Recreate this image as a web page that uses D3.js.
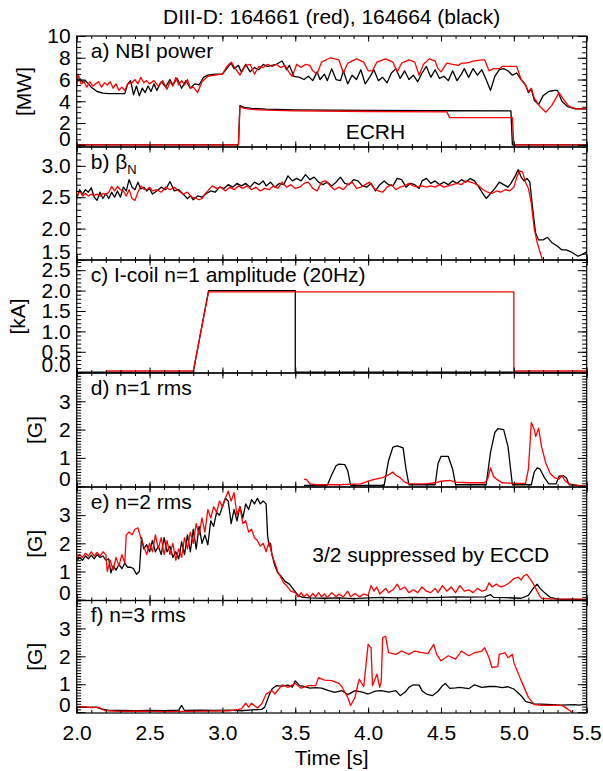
<!DOCTYPE html>
<html>
<head>
<meta charset="utf-8">
<script src="https://cdn.jsdelivr.net/npm/d3@7"></script>
<style>
  body { margin: 0; background: #fff; }
  svg text { font-family: "Liberation Sans", Arial, sans-serif; fill: #000; }
  .trace { fill: none; stroke-width: 1.3; stroke-linejoin: round; }
</style>
</head>
<body>
<svg id="chart"></svg>
<script>
// ---- data: [time (s), value] ----
const timeTicks = [2.0, 2.5, 3.0, 3.5, 4.0, 4.5, 5.0, 5.5];
const nbiTicks = [0, 2, 4, 6, 8, 10];
const betaTicks = [1.5, 2.0, 2.5, 3.0];
const coilTicks = [0, 0.5, 1.0, 1.5, 2.0, 2.5];
const rmsTicks = [0, 1, 2, 3];

const nbiBlack = [[2.00,5.7],[2.02,6.1],[2.04,5.8],[2.06,5.9],[2.08,5.6],[2.10,5.3],[2.14,4.9],[2.18,4.75],[2.22,4.7],[2.33,4.7],[2.35,5.6],[2.37,5.9],[2.39,4.6],[2.41,5.4],[2.43,4.5],[2.45,5.2],[2.47,4.8],[2.49,5.4],[2.51,4.9],[2.53,5.6],[2.55,5.0],[2.58,5.8],[2.61,5.3],[2.64,6.0],[2.66,5.5],[2.69,6.1],[2.72,5.2],[2.75,5.9],[2.78,5.2],[2.81,5.6],[2.84,5.5],[2.87,6.2],[2.90,6.4],[2.95,6.5],[3.00,6.5],[3.03,7.0],[3.06,7.5],[3.08,7.0],[3.11,7.3],[3.13,6.7],[3.16,7.4],[3.19,6.7],[3.22,7.1],[3.25,6.9],[3.28,7.4],[3.31,7.2],[3.34,7.3],[3.37,7.4],[3.41,7.7],[3.44,6.9],[3.46,7.3],[3.49,6.3],[3.53,6.2],[3.56,6.0],[3.59,6.3],[3.62,5.9],[3.65,6.7],[3.67,6.0],[3.70,6.5],[3.72,5.9],[3.75,7.0],[3.78,6.0],[3.81,5.9],[3.83,6.8],[3.86,5.6],[3.89,6.4],[3.92,6.0],[3.95,6.9],[3.98,5.6],[4.01,6.2],[4.04,6.9],[4.07,5.9],[4.10,6.2],[4.13,5.7],[4.16,6.6],[4.19,7.0],[4.22,6.1],[4.25,6.8],[4.28,6.0],[4.31,6.4],[4.34,5.8],[4.37,6.6],[4.40,7.2],[4.43,6.2],[4.46,6.9],[4.49,6.1],[4.52,6.3],[4.55,5.9],[4.58,6.8],[4.61,5.9],[4.64,6.5],[4.66,7.0],[4.69,6.2],[4.72,7.0],[4.75,6.4],[4.78,6.9],[4.81,6.0],[4.84,5.0],[4.87,6.3],[4.90,6.9],[4.93,7.0],[4.96,6.8],[4.99,6.4],[5.02,6.6],[5.05,6.0],[5.08,5.5],[5.10,4.8],[5.12,5.1],[5.14,4.1],[5.17,3.7],[5.20,4.5],[5.24,4.9],[5.28,5.0],[5.30,5.0],[5.33,4.0],[5.37,3.5],[5.42,3.3],[5.50,3.3]];
const nbiRed = [[2.00,5.3],[2.01,6.5],[2.03,5.6],[2.05,5.8],[2.07,5.3],[2.09,5.8],[2.11,5.4],[2.13,5.6],[2.15,5.8],[2.17,5.3],[2.19,5.7],[2.21,5.5],[2.23,5.8],[2.25,5.2],[2.27,5.6],[2.29,5.0],[2.31,5.3],[2.33,5.0],[2.35,5.6],[2.38,5.7],[2.40,6.0],[2.42,5.6],[2.44,6.2],[2.46,5.7],[2.48,5.9],[2.50,5.6],[2.53,5.9],[2.56,5.4],[2.59,5.9],[2.62,5.1],[2.64,5.8],[2.66,5.4],[2.68,6.2],[2.70,5.5],[2.72,5.9],[2.74,5.5],[2.76,6.0],[2.78,5.2],[2.80,5.3],[2.83,4.8],[2.86,5.8],[2.90,6.3],[2.95,6.4],[3.00,6.5],[3.03,7.2],[3.06,7.6],[3.09,7.0],[3.12,6.4],[3.16,7.3],[3.19,7.4],[3.22,6.5],[3.25,7.2],[3.28,7.1],[3.31,7.4],[3.34,7.2],[3.37,7.4],[3.40,7.1],[3.43,7.3],[3.46,6.6],[3.48,6.3],[3.51,7.4],[3.54,7.1],[3.57,7.4],[3.60,7.3],[3.62,6.8],[3.65,6.5],[3.68,7.6],[3.74,8.0],[3.80,7.8],[3.83,6.6],[3.86,7.5],[3.92,7.9],[3.97,7.6],[4.00,6.8],[4.03,6.8],[4.06,7.6],[4.12,7.9],[4.17,7.6],[4.20,6.7],[4.23,7.5],[4.28,7.8],[4.32,7.6],[4.35,6.4],[4.38,7.4],[4.42,7.9],[4.46,7.7],[4.48,7.0],[4.50,6.7],[4.54,7.5],[4.58,7.4],[4.62,7.3],[4.64,7.5],[4.67,7.5],[4.70,7.6],[4.72,7.7],[4.78,7.8],[4.80,7.8],[4.83,6.8],[4.86,7.0],[4.90,7.0],[4.92,7.2],[5.02,7.2],[5.05,6.0],[5.08,5.5],[5.10,4.9],[5.12,5.2],[5.14,4.3],[5.18,3.5],[5.22,3.0],[5.26,3.6],[5.31,4.8],[5.34,4.2],[5.38,3.5],[5.43,3.3],[5.50,3.3]];
const ecrhBlack = [[2.00,0],[3.11,0],[3.12,3.6],[3.15,3.45],[3.20,3.35],[3.30,3.28],[3.50,3.22],[4.00,3.17],[4.50,3.13],[4.98,3.12],[4.99,0],[5.50,0]];
const ecrhRed = [[2.00,0],[3.11,0],[3.12,3.5],[3.15,3.35],[3.20,3.25],[3.30,3.18],[3.50,3.12],[4.00,3.06],[4.54,3.02],[4.56,2.5],[4.99,2.5],[5.00,0],[5.50,0]];

const betaBlack = [[2.00,2.48],[2.02,2.62],[2.04,2.55],[2.06,2.62],[2.08,2.58],[2.10,2.65],[2.12,2.50],[2.14,2.45],[2.16,2.58],[2.18,2.48],[2.20,2.56],[2.22,2.48],[2.24,2.58],[2.26,2.50],[2.28,2.60],[2.30,2.50],[2.32,2.66],[2.34,2.60],[2.36,2.78],[2.38,2.66],[2.40,2.62],[2.42,2.74],[2.44,2.63],[2.46,2.66],[2.48,2.60],[2.50,2.64],[2.52,2.55],[2.55,2.60],[2.58,2.66],[2.61,2.62],[2.64,2.75],[2.67,2.60],[2.70,2.62],[2.73,2.55],[2.76,2.48],[2.78,2.52],[2.80,2.46],[2.83,2.52],[2.86,2.50],[2.89,2.56],[2.92,2.60],[2.95,2.58],[2.98,2.66],[3.01,2.64],[3.04,2.70],[3.07,2.66],[3.10,2.72],[3.13,2.68],[3.16,2.72],[3.19,2.66],[3.22,2.74],[3.25,2.70],[3.28,2.76],[3.30,2.68],[3.33,2.74],[3.36,2.66],[3.39,2.72],[3.42,2.70],[3.45,2.84],[3.48,2.76],[3.51,2.80],[3.54,2.76],[3.57,2.86],[3.60,2.78],[3.63,2.82],[3.66,2.74],[3.69,2.70],[3.72,2.74],[3.75,2.68],[3.78,2.74],[3.81,2.82],[3.84,2.72],[3.87,2.70],[3.90,2.78],[3.93,2.76],[3.96,2.68],[3.99,2.66],[4.02,2.72],[4.05,2.60],[4.08,2.70],[4.11,2.76],[4.14,2.70],[4.17,2.68],[4.20,2.80],[4.23,2.78],[4.26,2.66],[4.29,2.72],[4.32,2.70],[4.35,2.64],[4.37,2.76],[4.40,2.80],[4.43,2.72],[4.46,2.76],[4.49,2.70],[4.52,2.74],[4.55,2.70],[4.58,2.76],[4.61,2.72],[4.64,2.78],[4.67,2.74],[4.70,2.80],[4.73,2.76],[4.76,2.66],[4.79,2.55],[4.81,2.48],[4.84,2.56],[4.87,2.64],[4.90,2.74],[4.93,2.70],[4.96,2.66],[4.98,2.72],[5.01,2.84],[5.03,2.94],[5.05,2.82],[5.07,2.76],[5.09,2.80],[5.11,2.74],[5.13,2.30],[5.15,1.92],[5.17,1.82],[5.20,1.82],[5.23,1.86],[5.26,1.78],[5.30,1.72],[5.33,1.66],[5.36,1.66],[5.40,1.62],[5.44,1.56],[5.47,1.59],[5.50,1.63]];
const betaRed = [[2.00,2.50],[2.02,2.60],[2.04,2.52],[2.06,2.56],[2.08,2.52],[2.10,2.55],[2.12,2.53],[2.14,2.55],[2.16,2.52],[2.18,2.56],[2.20,2.54],[2.22,2.58],[2.24,2.67],[2.26,2.60],[2.28,2.67],[2.30,2.62],[2.32,2.60],[2.34,2.52],[2.36,2.62],[2.38,2.48],[2.40,2.45],[2.42,2.58],[2.44,2.68],[2.46,2.63],[2.48,2.62],[2.50,2.66],[2.52,2.60],[2.55,2.62],[2.58,2.58],[2.61,2.66],[2.64,2.62],[2.67,2.66],[2.70,2.60],[2.73,2.55],[2.76,2.58],[2.79,2.50],[2.82,2.48],[2.84,2.46],[2.86,2.48],[2.88,2.55],[2.90,2.60],[2.93,2.68],[2.96,2.64],[2.99,2.66],[3.02,2.60],[3.05,2.66],[3.08,2.62],[3.11,2.68],[3.14,2.64],[3.17,2.68],[3.20,2.62],[3.23,2.66],[3.26,2.60],[3.29,2.64],[3.32,2.62],[3.35,2.68],[3.38,2.64],[3.41,2.74],[3.44,2.66],[3.47,2.70],[3.50,2.64],[3.53,2.66],[3.56,2.72],[3.59,2.74],[3.62,2.64],[3.65,2.60],[3.68,2.74],[3.71,2.76],[3.74,2.68],[3.77,2.62],[3.80,2.66],[3.83,2.62],[3.86,2.70],[3.89,2.74],[3.92,2.64],[3.95,2.66],[3.98,2.70],[4.01,2.74],[4.04,2.64],[4.07,2.60],[4.10,2.58],[4.13,2.66],[4.16,2.70],[4.19,2.62],[4.22,2.66],[4.25,2.68],[4.28,2.72],[4.31,2.68],[4.34,2.66],[4.37,2.68],[4.40,2.66],[4.43,2.68],[4.46,2.66],[4.49,2.70],[4.52,2.66],[4.55,2.68],[4.58,2.70],[4.61,2.72],[4.64,2.70],[4.67,2.76],[4.70,2.74],[4.73,2.72],[4.76,2.68],[4.79,2.62],[4.82,2.58],[4.85,2.56],[4.88,2.60],[4.91,2.58],[4.94,2.62],[4.97,2.60],[5.00,2.66],[5.02,2.82],[5.04,2.92],[5.06,2.90],[5.08,2.74],[5.10,2.64],[5.12,2.40],[5.14,2.00],[5.16,1.78],[5.19,1.55],[5.21,1.40],[5.24,1.25]];

const coilBlack = [[2.00,0],[2.80,0],[2.905,2.0],[3.50,2.0],[3.50,0],[5.50,0]];
const coilRed = [[2.20,0.03],[2.80,0.03],[2.905,1.97],[5.00,1.97],[5.00,0.03],[5.50,0.03]];

const n1Black = [[3.56,0.03],[3.72,0.03],[3.75,0.4],[3.78,0.72],[3.80,0.78],[3.84,0.76],[3.86,0.55],[3.88,0.03],[4.11,0.03],[4.14,0.9],[4.17,1.38],[4.20,1.42],[4.24,1.35],[4.26,0.6],[4.28,0.05],[4.46,0.05],[4.48,0.8],[4.50,1.05],[4.55,1.05],[4.58,0.6],[4.60,0.05],[4.81,0.05],[4.84,1.2],[4.87,1.9],[4.89,2.03],[4.93,2.0],[4.96,1.4],[4.98,0.5],[4.99,0.05],[5.12,0.05],[5.14,0.5],[5.16,0.65],[5.18,0.6],[5.21,0.3],[5.24,0.08],[5.29,0.08],[5.31,0.35],[5.34,0.37],[5.36,0.3],[5.38,0.05],[5.45,0.02],[5.50,0.0]];
const n1Red = [[3.56,0.25],[3.58,0.22],[3.60,0.08],[3.65,0.05],[3.80,0.05],[3.95,0.08],[4.00,0.18],[4.05,0.25],[4.10,0.3],[4.14,0.4],[4.17,0.5],[4.19,0.38],[4.22,0.3],[4.25,0.15],[4.28,0.08],[4.40,0.08],[4.46,0.12],[4.50,0.18],[4.56,0.2],[4.60,0.14],[4.70,0.12],[4.80,0.12],[4.82,0.25],[4.84,0.65],[4.86,0.35],[4.88,0.25],[4.92,0.12],[5.00,0.1],[5.08,0.1],[5.10,0.6],[5.12,2.25],[5.14,2.0],[5.15,1.75],[5.17,2.05],[5.19,1.4],[5.22,0.8],[5.25,0.45],[5.28,0.3],[5.31,0.25],[5.33,0.38],[5.35,0.2],[5.38,0.08],[5.45,0.02],[5.50,0.0]];

const n2Black = [[2.00,1.37],[2.02,1.5],[2.04,1.4],[2.06,1.55],[2.08,1.45],[2.10,1.58],[2.12,1.45],[2.14,1.6],[2.16,1.5],[2.18,1.55],[2.20,1.4],[2.22,1.45],[2.235,0.95],[2.25,1.2],[2.27,1.05],[2.29,1.25],[2.31,1.1],[2.33,1.3],[2.35,1.15],[2.37,1.15],[2.39,1.1],[2.41,0.9],[2.43,1.0],[2.445,2.2],[2.46,1.8],[2.48,1.95],[2.50,1.7],[2.52,2.1],[2.54,1.7],[2.56,1.9],[2.58,1.6],[2.60,2.2],[2.62,1.7],[2.64,1.9],[2.66,1.5],[2.68,1.7],[2.70,1.45],[2.72,2.05],[2.74,1.6],[2.76,2.3],[2.78,1.7],[2.80,2.5],[2.82,1.8],[2.84,2.6],[2.86,2.0],[2.88,2.3],[2.90,1.95],[2.92,2.8],[2.94,2.6],[2.96,3.1],[2.98,3.0],[3.00,3.3],[3.02,3.6],[3.04,3.5],[3.06,2.7],[3.08,3.2],[3.10,2.8],[3.12,3.3],[3.14,2.9],[3.16,3.4],[3.18,3.2],[3.20,3.55],[3.22,3.4],[3.24,3.6],[3.26,3.4],[3.28,3.5],[3.30,3.4],[3.31,2.3],[3.32,1.9],[3.33,2.0],[3.34,1.6],[3.36,1.2],[3.38,0.95],[3.40,0.85],[3.43,0.65],[3.46,0.55],[3.49,0.35],[3.52,0.15],[3.55,0.08],[3.60,0.06],[3.70,0.05],[3.80,0.06],[3.90,0.04],[4.00,0.06],[4.10,0.08],[4.20,0.06],[4.30,0.08],[4.40,0.07],[4.50,0.08],[4.60,0.1],[4.70,0.09],[4.80,0.1],[4.84,0.18],[4.86,0.08],[4.95,0.07],[5.05,0.05],[5.10,0.15],[5.14,0.45],[5.16,0.55],[5.18,0.4],[5.21,0.25],[5.25,0.08],[5.30,0.02],[5.50,0.0]];
const n2Red = [[2.00,1.45],[2.02,1.6],[2.04,1.5],[2.06,1.65],[2.08,1.55],[2.10,1.7],[2.12,1.55],[2.14,1.68],[2.16,1.55],[2.18,1.7],[2.20,1.6],[2.21,1.0],[2.23,1.4],[2.25,1.05],[2.27,1.5],[2.29,1.2],[2.31,1.6],[2.33,1.3],[2.34,2.3],[2.36,2.4],[2.38,2.3],[2.40,2.5],[2.42,2.55],[2.44,2.2],[2.46,1.9],[2.48,1.6],[2.50,2.0],[2.52,1.7],[2.54,2.3],[2.56,1.8],[2.58,2.2],[2.60,1.6],[2.62,2.1],[2.64,1.6],[2.66,2.0],[2.68,1.4],[2.70,1.8],[2.72,1.5],[2.74,2.2],[2.76,1.8],[2.78,2.4],[2.80,2.0],[2.82,2.7],[2.84,2.3],[2.86,2.9],[2.88,2.4],[2.90,3.2],[2.92,2.9],[2.94,3.3],[2.96,3.1],[2.98,3.5],[3.00,3.3],[3.02,3.6],[3.04,3.85],[3.06,3.5],[3.08,3.8],[3.10,3.0],[3.12,3.3],[3.14,2.7],[3.16,2.8],[3.18,2.4],[3.20,2.5],[3.22,2.2],[3.24,2.1],[3.26,1.9],[3.28,2.0],[3.30,1.7],[3.32,2.05],[3.34,1.6],[3.36,1.3],[3.38,1.0],[3.40,0.8],[3.42,0.6],[3.44,0.5],[3.47,0.3],[3.50,0.25],[3.52,0.1],[3.54,0.25],[3.56,0.1],[3.58,0.2],[3.60,0.08],[3.62,0.22],[3.64,0.1],[3.66,0.25],[3.68,0.1],[3.70,0.2],[3.72,0.08],[3.75,0.25],[3.78,0.1],[3.80,0.2],[3.83,0.1],[3.86,0.3],[3.88,0.1],[3.91,0.22],[3.94,0.1],[3.97,0.2],[4.00,0.15],[4.02,0.5],[4.04,0.3],[4.06,0.45],[4.08,0.2],[4.10,0.3],[4.12,0.4],[4.14,0.25],[4.17,0.35],[4.20,0.55],[4.22,0.35],[4.25,0.45],[4.28,0.25],[4.31,0.35],[4.34,0.25],[4.37,0.45],[4.40,0.3],[4.43,0.25],[4.46,0.4],[4.48,0.25],[4.51,0.5],[4.54,0.3],[4.57,0.45],[4.60,0.25],[4.63,0.5],[4.66,0.3],[4.69,0.35],[4.72,0.25],[4.75,0.4],[4.78,0.3],[4.81,0.35],[4.83,0.6],[4.85,0.45],[4.88,0.55],[4.91,0.45],[4.94,0.5],[4.97,0.6],[5.00,0.75],[5.03,0.8],[5.05,0.7],[5.07,0.85],[5.09,0.9],[5.11,0.75],[5.13,0.6],[5.15,0.4],[5.17,0.2],[5.19,0.05],[5.25,0.03],[5.40,0.02],[5.50,0.02]];

const n3Black = [[2.00,0.18],[2.06,0.17],[2.13,0.18],[2.17,0.12],[2.22,0.06],[2.30,0.06],[2.40,0.05],[2.50,0.06],[2.60,0.05],[2.70,0.07],[2.72,0.24],[2.74,0.06],[2.85,0.07],[2.95,0.06],[3.05,0.07],[3.13,0.05],[3.20,0.08],[3.27,0.1],[3.29,0.18],[3.32,0.6],[3.34,0.83],[3.37,0.95],[3.41,0.93],[3.45,0.97],[3.48,0.9],[3.50,1.12],[3.53,0.95],[3.56,0.92],[3.60,0.86],[3.64,0.88],[3.68,0.86],[3.73,0.77],[3.77,0.71],[3.82,0.77],[3.86,0.63],[3.91,0.77],[3.96,0.72],[4.00,0.65],[4.05,0.75],[4.09,0.77],[4.14,0.72],[4.19,0.77],[4.22,0.59],[4.26,0.75],[4.28,0.89],[4.31,0.98],[4.35,0.97],[4.37,0.77],[4.40,0.65],[4.44,0.59],[4.48,0.75],[4.51,0.95],[4.53,1.03],[4.56,0.85],[4.60,0.87],[4.63,0.89],[4.69,0.84],[4.73,0.98],[4.78,0.89],[4.83,0.92],[4.87,0.92],[4.92,0.88],[4.96,0.91],[5.00,0.83],[5.05,0.59],[5.08,0.39],[5.14,0.3],[5.23,0.28],[5.32,0.25],[5.42,0.27],[5.44,0.25],[5.50,0.28]];
const n3Red = [[2.00,0.17],[2.05,0.2],[2.10,0.16],[2.15,0.18],[2.19,0.06],[2.30,0.03],[2.45,0.04],[2.60,0.02],[2.75,0.03],[2.90,0.04],[3.05,0.05],[3.13,0.12],[3.16,0.32],[3.18,0.18],[3.20,0.32],[3.24,0.15],[3.27,0.3],[3.30,0.65],[3.34,0.77],[3.36,0.65],[3.41,0.98],[3.45,0.89],[3.50,1.03],[3.54,0.86],[3.59,0.95],[3.64,0.95],[3.66,1.24],[3.70,1.15],[3.75,1.13],[3.80,1.03],[3.82,0.91],[3.86,0.53],[3.88,0.24],[3.91,0.53],[3.93,1.0],[3.94,1.18],[3.97,0.91],[4.00,2.43],[4.02,2.3],[4.03,0.95],[4.06,1.36],[4.08,0.89],[4.09,1.1],[4.10,2.67],[4.12,2.72],[4.14,2.13],[4.19,2.07],[4.23,2.19],[4.28,2.07],[4.32,2.19],[4.37,2.13],[4.41,2.1],[4.45,2.43],[4.47,2.07],[4.50,1.84],[4.55,2.02],[4.60,1.9],[4.64,2.19],[4.69,2.02],[4.73,2.13],[4.78,2.19],[4.80,2.31],[4.83,1.95],[4.85,1.6],[4.89,1.63],[4.90,2.07],[4.94,2.13],[4.96,1.95],[4.99,2.07],[5.00,1.78],[5.05,1.13],[5.10,0.53],[5.14,0.27],[5.19,0.24],[5.33,0.24],[5.35,0.18],[5.40,0.0],[5.43,-0.18],[5.50,-0.3]];

class ShotTraceChart {

  constructor(_config) {
    this.config = {
      parentElement: _config.parentElement,
      containerWidth: _config.containerWidth || 603,
      containerHeight: _config.containerHeight || 771,
      left: 76.7,
      right: 586.7,
      // panel edges top to bottom (a..f)
      edges: [36, 147, 260, 373, 487, 600.5, 713]
    };
    this.panels = _config.panels;
    this.initVis();
  }

  initVis() {
    let vis = this;

    vis.svg = d3.select(vis.config.parentElement)
        .attr('width', vis.config.containerWidth)
        .attr('height', vis.config.containerHeight);

    vis.width = vis.config.right - vis.config.left;
    vis.xScale = d3.scaleLinear()
        .domain([2.0, 5.5])
        .range([0, vis.width]);

    vis.svg.append('text')
        .attr('x', vis.config.left + vis.width / 2)
        .attr('y', 24)
        .attr('text-anchor', 'middle')
        .style('font-size', '21px')
        .text('DIII-D: 164661 (red), 164664 (black)');

    vis.panels.forEach((p, i) => vis.renderPanel(p, i));

    vis.svg.append('text')
        .attr('x', vis.config.left + vis.width / 2)
        .attr('y', 765)
        .attr('text-anchor', 'middle')
        .style('font-size', '21px')
        .text('Time [s]');
  }

  renderPanel(p, i) {
    let vis = this;
    let top = vis.config.edges[i];
    let h = vis.config.edges[i + 1] - top;
    let last = i === vis.panels.length - 1;

    let g = vis.svg.append('g')
        .attr('transform', `translate(${vis.config.left},${top})`);

    let yScale = d3.scaleLinear()
        .domain(p.domain)
        .range([h, 0]);

    g.append('clipPath').attr('id', 'clip' + i)
      .append('rect').attr('width', vis.width).attr('height', h);

    let line = d3.line()
        .x(d => vis.xScale(d[0]))
        .y(d => yScale(d[1]));

    g.append('g').attr('clip-path', `url(#clip${i})`)
      .selectAll('.trace')
      .data(p.series)
      .join('path')
        .attr('class', 'trace')
        .attr('stroke', d => d[1])
        .attr('stroke-width', d => d[2] || 1.3)
        .attr('d', d => line(d[0]));

    // minor + major ticks on all four sides, pointing inward
    let yMinor = d3.range(p.minorFrom, p.domain[1] + 1e-6, p.minor);
    let xMinor = d3.range(2.0, 5.5001, 0.1);

    let yLeft = g.append('g').call(d3.axisLeft(yScale)
        .tickValues(p.ticks).tickSize(-9).tickPadding(6)
        .tickFormat(p.fmt));
    g.append('g').call(d3.axisLeft(yScale)
        .tickValues(yMinor).tickSize(-4.5).tickFormat(''));
    g.append('g').attr('transform', `translate(${vis.width},0)`)
      .call(d3.axisRight(yScale).tickValues(p.ticks).tickSize(-9).tickFormat(''));
    g.append('g').attr('transform', `translate(${vis.width},0)`)
      .call(d3.axisRight(yScale).tickValues(yMinor).tickSize(-4.5).tickFormat(''));

    g.append('g').call(d3.axisTop(vis.xScale)
        .tickValues(timeTicks).tickSize(-5.5).tickFormat(''));
    g.append('g').call(d3.axisTop(vis.xScale)
        .tickValues(xMinor).tickSize(-3).tickFormat(''));
    let xBottom = g.append('g').attr('transform', `translate(0,${h})`)
      .call(d3.axisBottom(vis.xScale)
        .tickValues(timeTicks).tickSize(-5.5).tickPadding(12)
        .tickFormat(last ? d3.format('.1f') : ''));
    g.append('g').attr('transform', `translate(0,${h})`)
      .call(d3.axisBottom(vis.xScale)
        .tickValues(xMinor).tickSize(-3).tickFormat(''));

    g.selectAll('.domain').remove();
    g.selectAll('.tick line').attr('stroke', '#000');

    yLeft.selectAll('text')
        .style('font-size', '21px')
        .attr('fill', '#000')
        .attr('y', d => Math.min(0, h - 8 - yScale(d)));
    xBottom.selectAll('text')
        .style('font-size', '21px')
        .attr('fill', '#000');

    g.append('rect')
        .attr('width', vis.width)
        .attr('height', h)
        .attr('fill', 'none')
        .attr('stroke', '#000')
        .attr('stroke-width', 1.2);

    let label = g.append('text')
        .attr('x', 14)
        .attr('y', 21.5)
        .style('font-size', '21px')
        .text(p.label);
    if (p.sub) {
      label.append('tspan')
          .attr('dy', 5)
          .style('font-size', '13px')
          .text(p.sub);
    }

    if (p.unit) {
      vis.svg.append('text')
          .attr('transform', `translate(${p.unitX},${top + h / 2}) rotate(-90)`)
          .attr('text-anchor', 'middle')
          .attr('dy', '0.35em')
          .style('font-size', '21px')
          .text(p.unit);
    }

    if (p.note) {
      g.append('text')
          .attr('x', vis.xScale(p.note.t))
          .attr('y', yScale(p.note.v))
          .attr('text-anchor', 'middle')
          .style('font-size', '21px')
          .text(p.note.text);
    }
  }
}

const intFmt = d3.format('d');
const oneFmt = d3.format('.1f');

let chart = new ShotTraceChart({
  parentElement: '#chart',
  panels: [
    { label: 'a) NBI power', unit: '[MW]', unitX: 24, domain: [-0.2, 10], ticks: nbiTicks,
      minorFrom: 0, minor: 0.5, fmt: intFmt,
      series: [[nbiBlack, '#000'], [nbiRed, '#ff0000'], [ecrhBlack, '#000'], [ecrhRed, '#ff0000']],
      note: { text: 'ECRH', t: 4.05, v: 0.5 } },
    { label: 'b) \u03b2', sub: 'N', domain: [1.5, 3.3], ticks: betaTicks,
      minorFrom: 1.5, minor: 0.1, fmt: oneFmt,
      series: [[betaBlack, '#000'], [betaRed, '#ff0000']] },
    { label: 'c) I-coil n=1 amplitude (20Hz)', unit: '[kA]', unitX: 18, domain: [-0.02, 2.75], ticks: coilTicks,
      minorFrom: 0, minor: 0.1, fmt: oneFmt,
      series: [[coilBlack, '#000'], [coilRed, '#ff0000', 2]] },
    { label: 'd) n=1 rms', unit: '[G]', unitX: 35, domain: [-0.03, 4], ticks: rmsTicks,
      minorFrom: 0, minor: 0.1, fmt: intFmt,
      series: [[n1Black, '#000'], [n1Red, '#ff0000']] },
    { label: 'e) n=2 rms', unit: '[G]', unitX: 35, domain: [-0.03, 4], ticks: rmsTicks,
      minorFrom: 0, minor: 0.1, fmt: intFmt,
      series: [[n2Black, '#000'], [n2Red, '#ff0000']],
      note: { text: '3/2 suppressed by ECCD', t: 4.43, v: 1.35 } },
    { label: 'f) n=3 rms', unit: '[G]', unitX: 35, domain: [-0.03, 4], ticks: rmsTicks,
      minorFrom: 0, minor: 0.1, fmt: intFmt,
      series: [[n3Black, '#000'], [n3Red, '#ff0000']] }
  ]
});
</script>
</body>
</html>
